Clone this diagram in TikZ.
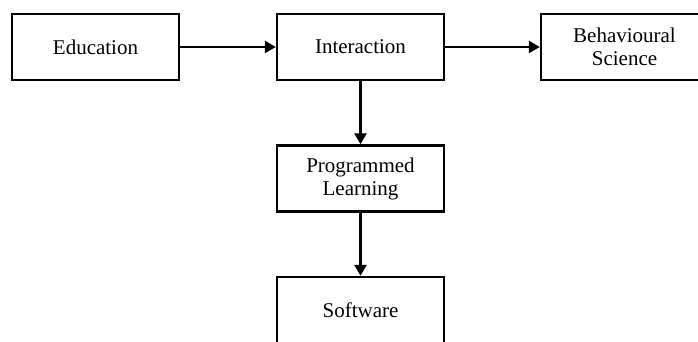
\documentclass[tikz,border=0pt]{standalone}
\usepackage{fontspec}
\setmainfont{Liberation Serif}
\usetikzlibrary{arrows.meta}

\tikzset{
  blockbox/.style={draw, line width=1.2pt, minimum width=83.5pt, minimum height=33pt,
    align=center, inner sep=0pt, font=\fontsize{10.5}{11.5}\selectfont},
  flowarrow/.style={line width=1.3pt, -{Triangle[length=5.5pt,width=6pt]}}
}

\begin{document}
\begin{tikzpicture}[x=0.5pt,y=-0.5pt]
			% frame of the picture
			\useasboundingbox (0,0) rectangle (698,342);
			\clip (0,0) rectangle (698,342);
			% top row
			\node[blockbox] (education) at (95.5,47) {Education};
			\node[blockbox] (interaction) at (360.5,47) {Interaction};
			\node[blockbox] (behaviour) at (624.5,47) {Behavioural\\Science};
			% column below
			\node[blockbox] (programmed) at (360.5,178.5) {Programmed\\Learning};
			\node[blockbox] (software) at (360.5,310) {Software};

			% arrows
			\draw[flowarrow] (education) -- (interaction);
			\draw[flowarrow] (interaction) -- (behaviour);
			\draw[flowarrow] (interaction) -- (programmed);
			\draw[flowarrow] (programmed) -- (software);
\end{tikzpicture}
\end{document}
